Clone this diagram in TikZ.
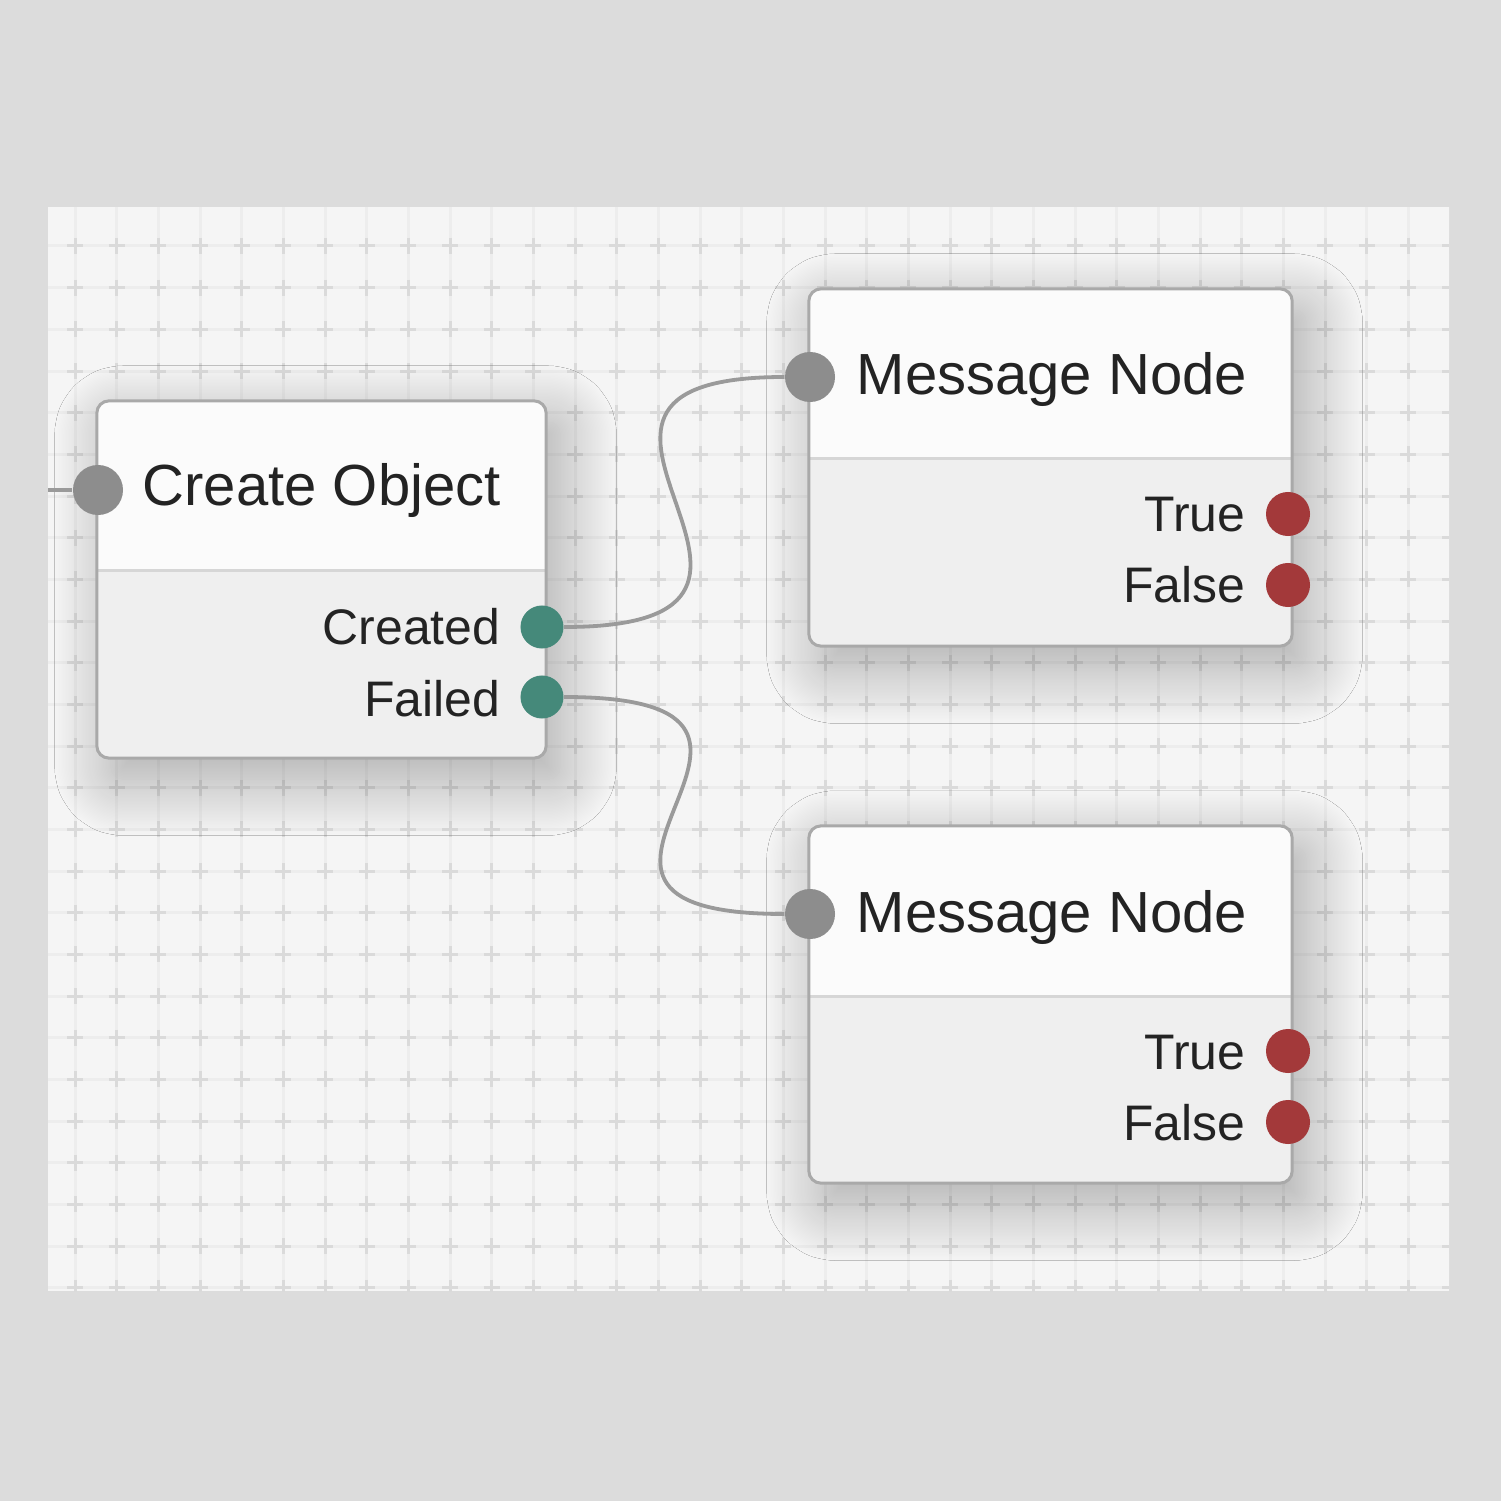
\documentclass[tikz,border=0pt]{standalone}
\usepackage{fontspec}
\setmainfont{Liberation Sans}
\usetikzlibrary{shadows.blur}

\definecolor{pagebg}{HTML}{DCDCDC}
\definecolor{canvasbg}{HTML}{F5F5F5}
\definecolor{gridline}{HTML}{EDEDED}
\definecolor{gridcross}{HTML}{DADADA}
\definecolor{boxline}{HTML}{A9A9A9}
\definecolor{headfill}{HTML}{FBFBFB}
\definecolor{bodyfill}{HTML}{EFEFEF}
\definecolor{sepline}{HTML}{D6D6D6}
\definecolor{wire}{HTML}{9A9A9A}
\definecolor{inport}{HTML}{8D8D8D}
\definecolor{okport}{HTML}{45897A}
\definecolor{msgport}{HTML}{A3393A}
\definecolor{textcol}{HTML}{232323}

\begin{document}
\begin{tikzpicture}[x=0.01cm, y=-0.01cm]
    \useasboundingbox (0,0) rectangle (1501,1501);
    \fill[pagebg] (0,0) rectangle (1501,1501);
    \fill[canvasbg] (48,207) rectangle (1449,1291);

    % grid
    \begin{scope}
        \clip (48,207) rectangle (1449,1291);
        \foreach \i in {0,...,33} {
            \draw[gridline, line width=0.03cm] ({75+41.67*\i},207) -- ({75+41.67*\i},1291);
        }
        \foreach \j in {0,...,25} {
            \draw[gridline, line width=0.03cm] (48,{246+41.67*\j}) -- (1449,{246+41.67*\j});
        }
        \foreach \i in {0,...,33} {
            \foreach \j in {0,...,25} {
                \draw[gridcross, line width=0.03cm] ({75+41.67*\i-8},{246+41.67*\j}) -- ++(16,0)
                    ({75+41.67*\i},{246+41.67*\j-8}) -- ++(0,16);
            }
        }
    \end{scope}

    % boxes
    \begin{scope}[every node/.style={draw=boxline, line width=0.03cm, fill=bodyfill, rounded corners=0.12cm,
            minimum height=3.57cm, inner sep=0pt,
            blur shadow={shadow xshift=4pt, shadow yshift=-6pt, shadow blur radius=16pt,
                shadow blur steps=40, shadow opacity=32},
            path picture={
                \fill[headfill, sharp corners] (path picture bounding box.north west) rectangle ([yshift=-1.7cm]path picture bounding box.north east);
                \draw[sepline, sharp corners, line width=0.03cm] ([yshift=-1.7cm]path picture bounding box.north west) -- ([yshift=-1.7cm]path picture bounding box.north east);
            }}]
        \node[minimum width=4.49cm] (create) at (321.5,579.5) {};
        \node[minimum width=4.83cm] (msg1) at (1050.5,467.5) {};
        \node[minimum width=4.83cm] (msg2) at (1050.5,1004.5) {};
    \end{scope}

    % ports
    \begin{scope}[every node/.style={circle, inner sep=0pt, minimum size=0.5cm, fill=inport}]
        \node (in0) at (98,490) {};
        \node (in1) at (810,377) {};
        \node (in2) at (810,914) {};
    \end{scope}

    \begin{scope}[every node/.style={circle, inner sep=0pt, minimum size=0.43cm, fill=okport}]
        \node (created) at (542,627) {};
        \node (failed) at (542,697) {};
    \end{scope}

    \begin{scope}[every node/.style={circle, inner sep=0pt, minimum size=0.44cm, fill=msgport}]
        \node (true1) at (1288,514) {};
        \node (false1) at (1288,585) {};
        \node (true2) at (1288,1051) {};
        \node (false2) at (1288,1122) {};
    \end{scope}

    % texts
    \begin{scope}[every node/.style={text=textcol, inner sep=0pt, anchor=base west, font=\fontsize{16.5}{20}\selectfont}]
        \node (createtitle) at (142,506) {Create Object};
        \node (msg1title) at (856,395) {Message Node};
        \node (msg2title) at (856,932) {Message Node};
    \end{scope}

    \begin{scope}[every node/.style={text=textcol, inner sep=0pt, anchor=base east, font=\fontsize{14.2}{17}\selectfont}]
        \node (createdtext) at (501,645) {Created};
        \node (failedtext) at (501,716) {Failed};
        \node (true1text) at (1246,532) {True};
        \node (false1text) at (1246,603) {False};
        \node (true2text) at (1246,1069) {True};
        \node (false2text) at (1246,1140) {False};
    \end{scope}

    % wires
    \begin{scope}[every path/.style={draw=wire, line width=0.038cm}]
        \coordinate (edge) at (48,490);
        \path (edge) -- (in0);
        \path (created) .. controls +(330,0) and +(-330,0) .. (in1);
        \path (failed) .. controls +(330,0) and +(-330,0) .. (in2);
    \end{scope}
\end{tikzpicture}
\end{document}
